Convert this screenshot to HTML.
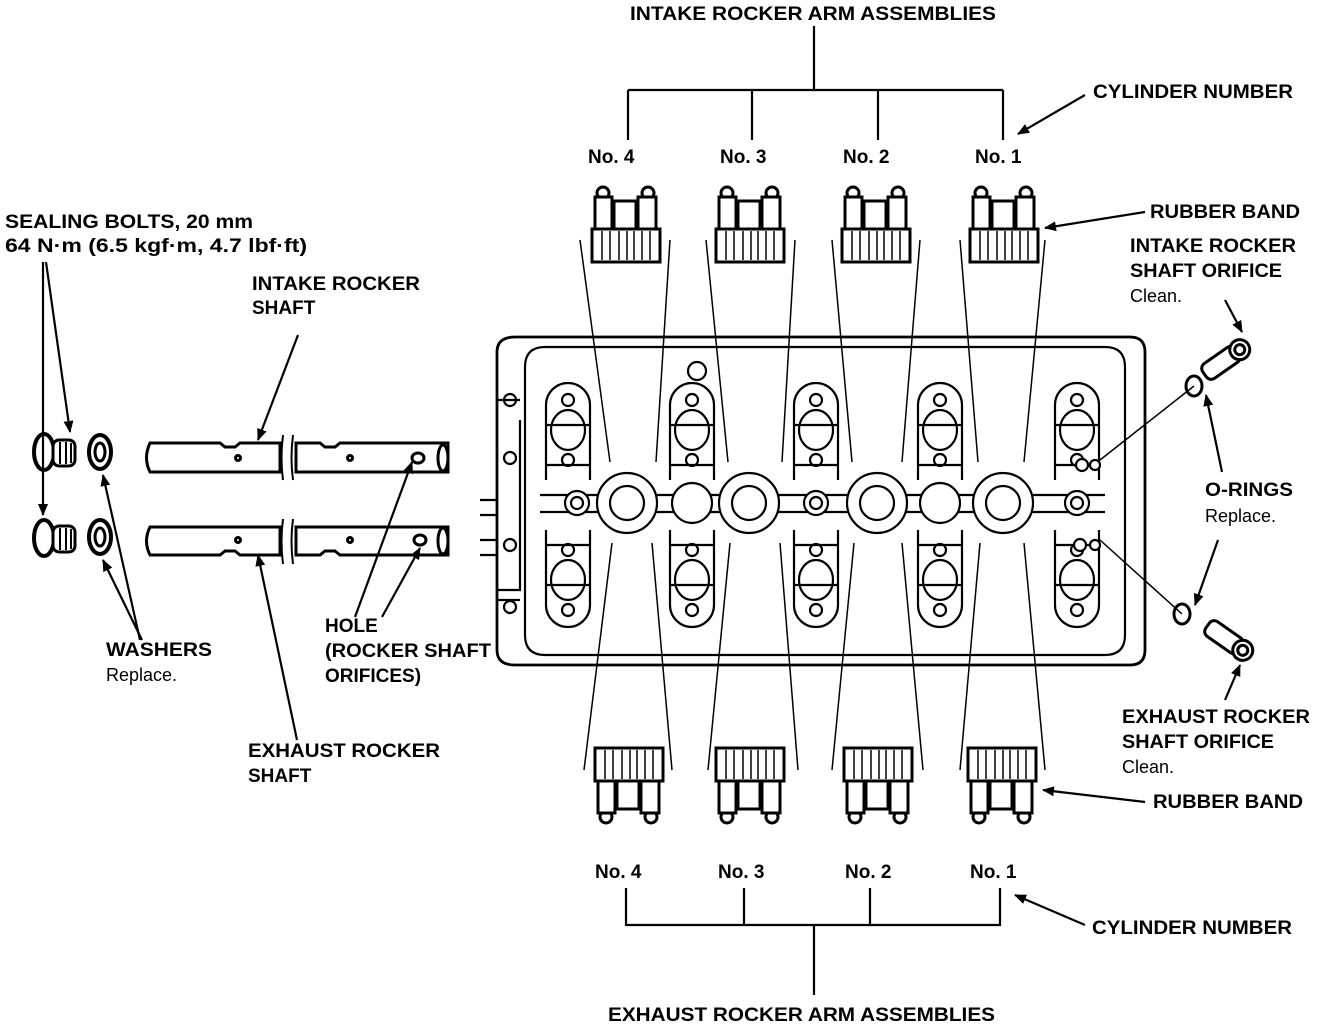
<!DOCTYPE html>
<html><head><meta charset="utf-8"><style>
html,body{margin:0;padding:0;background:#fff}
svg{display:block}
text{font-family:"Liberation Sans",sans-serif;font-size:18px;fill:#000}
.b{font-weight:bold;font-size:19px}
</style></head><body>
<svg width="1328" height="1030" viewBox="0 0 1328 1030" xmlns="http://www.w3.org/2000/svg">
<defs>
<marker id="ar" markerWidth="12" markerHeight="10" refX="11" refY="5" orient="auto" markerUnits="userSpaceOnUse"><path d="M0,0 L12,5 L0,10 Z" fill="#000"/></marker>
<g id="asm" fill="#fff" stroke="#000" stroke-width="3">
<circle cx="11" cy="8" r="6"/><circle cx="56" cy="8" r="6"/>
<rect x="3" y="12" width="17" height="32"/><rect x="22" y="16" width="22" height="28"/><rect x="46" y="12" width="18" height="32"/>
<rect x="0" y="44" width="68" height="33"/>
<path d="M10 46V75M18 46V75M27 46V75M35 46V75M42 46V75M50 46V75M58 46V75" stroke-width="1.5"/>
</g>
<g id="cap" fill="none" stroke="#000" stroke-width="2.2">
<path d="M-22,95 V20 A22,22 0 0 1 22,20 V95"/>
<path d="M-22,40 H22 M-22,80 H22"/>
<ellipse cx="0" cy="45" rx="17" ry="20"/>
<circle cx="0" cy="15" r="6"/><circle cx="0" cy="75" r="6"/>
</g>
</defs>
<g stroke="#000" stroke-width="2.2" fill="none">
<path d="M814 26V90 M628 90H1003 M628 90V140 M752 90V140 M878 90V140 M1003 90V140"/>
<path d="M626 888V925H1000V888 M744 888V925 M870 888V925 M814 925V995"/>
<path d="M515 337 H1130 Q1145 337 1145 352 V650 Q1145 665 1130 665 H515 Q497 665 497 650 V352 Q497 337 515 337Z" stroke-width="2.8"/>
<path d="M545 347 H1105 Q1125 347 1125 367 V635 Q1125 655 1105 655 H545 Q525 655 525 635 V367 Q525 347 545 347Z"/>
<path d="M497 400 H520 M497 600 H520 M520 420 V590 H497"/>
<circle cx="510" cy="400" r="6"/><circle cx="510" cy="458" r="6"/><circle cx="510" cy="545" r="6"/><circle cx="510" cy="607" r="6"/>
<path d="M480 500 H497 M480 515 H497 M480 540 H497 M480 555 H497"/>
<path d="M540 495 H1105 M540 512 H1105"/>
<circle cx="697" cy="371" r="9"/>
</g>
<g fill="#fff" stroke="#000" stroke-width="2.2">
<g transform="translate(568,385)"><use href="#cap"/></g>
<g transform="translate(692,385)"><use href="#cap"/></g>
<g transform="translate(816,385)"><use href="#cap"/></g>
<g transform="translate(940,385)"><use href="#cap"/></g>
<g transform="translate(1077,385)"><use href="#cap"/></g>
<g transform="translate(568,625) scale(1,-1)"><use href="#cap"/></g>
<g transform="translate(692,625) scale(1,-1)"><use href="#cap"/></g>
<g transform="translate(816,625) scale(1,-1)"><use href="#cap"/></g>
<g transform="translate(940,625) scale(1,-1)"><use href="#cap"/></g>
<g transform="translate(1077,625) scale(1,-1)"><use href="#cap"/></g>
<circle cx="627" cy="503" r="30"/><circle cx="627" cy="503" r="17"/>
<circle cx="749" cy="503" r="30"/><circle cx="749" cy="503" r="17"/>
<circle cx="877" cy="503" r="30"/><circle cx="877" cy="503" r="17"/>
<circle cx="1003" cy="503" r="30"/><circle cx="1003" cy="503" r="17"/>
<circle cx="692" cy="503" r="20"/><circle cx="940" cy="503" r="20"/>
<circle cx="577" cy="503" r="12"/><circle cx="577" cy="503" r="6"/>
<circle cx="816" cy="503" r="12"/><circle cx="816" cy="503" r="6"/>
<circle cx="1077" cy="503" r="12"/><circle cx="1077" cy="503" r="6"/>
<circle cx="1082" cy="465" r="6"/><circle cx="1095" cy="465" r="5"/>
<circle cx="1080" cy="545" r="6"/><circle cx="1095" cy="545" r="5"/>
</g>
<g stroke="#000" stroke-width="1.5" fill="none">
<path d="M580 240 L610 462 M670 240 L656 462"/>
<path d="M706 240 L728 462 M795 240 L782 462"/>
<path d="M832 240 L852 462 M920 240 L902 462"/>
<path d="M960 240 L978 462 M1045 240 L1024 462"/>
<path d="M612 543 L584 770 M652 543 L672 770"/>
<path d="M730 543 L708 770 M780 543 L798 770"/>
<path d="M854 543 L832 770 M902 543 L923 770"/>
<path d="M980 543 L960 770 M1024 543 L1045 770"/>
</g>
<use href="#asm" x="592" y="185"/><use href="#asm" x="716" y="185"/><use href="#asm" x="842" y="185"/><use href="#asm" x="970" y="185"/>
<g transform="translate(0,1010) scale(1,-1)">
<use href="#asm" x="595" y="185"/><use href="#asm" x="716" y="185"/><use href="#asm" x="844" y="185"/><use href="#asm" x="968" y="185"/>
</g>
<g stroke="#000" stroke-width="3" fill="#fff">
<path d="M150 443 H220 L225 447 H235 L240 443 H280 V472 H150 Q143 458 150 443Z"/>
<path d="M296 443 H320 L325 447 H335 L340 443 H448 V472 H296Z"/>
<ellipse cx="443" cy="458" rx="5" ry="13"/>
<path d="M150 527 H280 V555 H240 L235 551 H225 L220 555 H150 Q143 541 150 527Z"/>
<path d="M296 527 H448 V555 H340 L335 551 H325 L320 555 H296Z"/>
<ellipse cx="443" cy="541" rx="5" ry="13"/>
<circle cx="238" cy="458" r="2.5"/><circle cx="350" cy="458" r="2.5"/><ellipse cx="418" cy="458" rx="6" ry="5"/>
<circle cx="238" cy="540" r="2.5"/><circle cx="350" cy="540" r="2.5"/><ellipse cx="420" cy="540" rx="6" ry="5"/>
<ellipse cx="44" cy="452" rx="10" ry="18" stroke-width="4"/><rect x="53" y="440" width="22" height="26" rx="6"/>
<path d="M60 442V464M66 442V464M71 443V463" stroke-width="2"/>
<ellipse cx="44" cy="538" rx="10" ry="18" stroke-width="4"/><rect x="53" y="526" width="22" height="26" rx="6"/>
<path d="M60 528V550M66 528V550M71 529V549" stroke-width="2"/>
<ellipse cx="100" cy="452" rx="11" ry="17" stroke-width="4"/><ellipse cx="100" cy="452" rx="5" ry="9"/>
<ellipse cx="100" cy="537" rx="11" ry="17" stroke-width="4"/><ellipse cx="100" cy="537" rx="5" ry="9"/>
<g transform="translate(1225,360) rotate(-35)"><rect x="-25" y="-9" width="40" height="18" rx="6"/><circle cx="18" cy="0" r="10"/><circle cx="18" cy="0" r="5"/></g>
<ellipse cx="1194" cy="386" rx="8" ry="10"/>
<g transform="translate(1228,640) rotate(35)"><rect x="-25" y="-9" width="40" height="18" rx="6"/><circle cx="18" cy="0" r="10"/><circle cx="18" cy="0" r="5"/></g>
<ellipse cx="1182" cy="614" rx="8" ry="10"/>
</g>
<path d="M283 435 Q280 458 283 480 M293 435 Q290 458 293 480 M283 519 Q280 541 283 564 M293 519 Q290 541 293 564" stroke="#000" stroke-width="2" fill="none"/>
<g stroke="#000" stroke-width="2.2" fill="none" marker-end="url(#ar)">
<path d="M1085 95 L1018 134"/>
<path d="M1145 212 L1045 228"/>
<path d="M1225 300 L1242 332"/>
<path d="M1222 472 L1206 395"/>
<path d="M1218 540 L1195 605"/>
<path d="M1225 700 L1240 665"/>
<path d="M1145 802 L1043 790"/>
<path d="M1085 925 L1015 895"/>
<path d="M43 262 L43 515"/>
<path d="M46 262 L70 432"/>
<path d="M140 640 L103 475"/>
<path d="M142 640 L103 560"/>
<path d="M298 335 L258 440"/>
<path d="M297 740 L258 555"/>
<path d="M355 617 L412 462"/>
<path d="M382 617 L420 548"/>
</g>
<path d="M1100 460 L1194 386 M1100 540 L1182 614" stroke="#000" stroke-width="1.5"/>
<text class="b" x="630" y="20" textLength="366" lengthAdjust="spacingAndGlyphs">INTAKE ROCKER ARM ASSEMBLIES</text>
<text class="b" x="1093" y="98" textLength="200" lengthAdjust="spacingAndGlyphs">CYLINDER NUMBER</text>
<text class="b" x="588" y="163">No. 4</text><text class="b" x="720" y="163">No. 3</text>
<text class="b" x="843" y="163">No. 2</text><text class="b" x="975" y="163">No. 1</text>
<text class="b" x="1150" y="218" textLength="150" lengthAdjust="spacingAndGlyphs">RUBBER BAND</text>
<text class="b" x="1130" y="252" textLength="166" lengthAdjust="spacingAndGlyphs">INTAKE ROCKER</text>
<text class="b" x="1130" y="277" textLength="152" lengthAdjust="spacingAndGlyphs">SHAFT ORIFICE</text>
<text x="1130" y="302">Clean.</text>
<text class="b" x="1205" y="496" textLength="88" lengthAdjust="spacingAndGlyphs">O-RINGS</text>
<text x="1205" y="522">Replace.</text>
<text class="b" x="1122" y="723" textLength="188" lengthAdjust="spacingAndGlyphs">EXHAUST ROCKER</text>
<text class="b" x="1122" y="748" textLength="152" lengthAdjust="spacingAndGlyphs">SHAFT ORIFICE</text>
<text x="1122" y="773">Clean.</text>
<text class="b" x="1153" y="808" textLength="150" lengthAdjust="spacingAndGlyphs">RUBBER BAND</text>
<text class="b" x="595" y="878">No. 4</text><text class="b" x="718" y="878">No. 3</text>
<text class="b" x="845" y="878">No. 2</text><text class="b" x="970" y="878">No. 1</text>
<text class="b" x="1092" y="934" textLength="200" lengthAdjust="spacingAndGlyphs">CYLINDER NUMBER</text>
<text class="b" x="608" y="1021" textLength="387" lengthAdjust="spacingAndGlyphs">EXHAUST ROCKER ARM ASSEMBLIES</text>
<text class="b" x="5" y="228" textLength="248" lengthAdjust="spacingAndGlyphs">SEALING BOLTS, 20 mm</text>
<text class="b" x="5" y="252" textLength="302" lengthAdjust="spacingAndGlyphs">64 N·m (6.5 kgf·m, 4.7 lbf·ft)</text>
<text class="b" x="252" y="290" textLength="168" lengthAdjust="spacingAndGlyphs">INTAKE ROCKER</text>
<text class="b" x="252" y="314">SHAFT</text>
<text class="b" x="106" y="656" textLength="106" lengthAdjust="spacingAndGlyphs">WASHERS</text>
<text x="106" y="681">Replace.</text>
<text class="b" x="325" y="632">HOLE</text>
<text class="b" x="325" y="657" textLength="166" lengthAdjust="spacingAndGlyphs">(ROCKER SHAFT</text>
<text class="b" x="325" y="682">ORIFICES)</text>
<text class="b" x="248" y="757" textLength="192" lengthAdjust="spacingAndGlyphs">EXHAUST ROCKER</text>
<text class="b" x="248" y="782">SHAFT</text>
</svg>
</body></html>
